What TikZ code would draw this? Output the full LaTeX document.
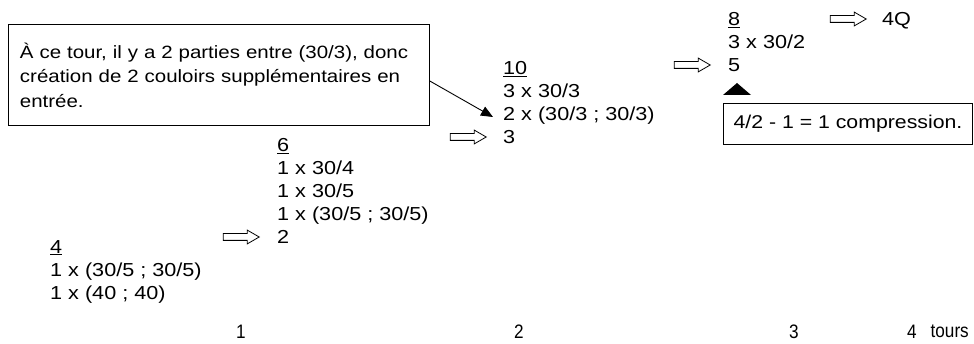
\documentclass[tikz,border=0pt]{standalone}
\usepackage{fontspec}
\setmainfont{Liberation Sans}[FakeStretch=1.15]
\newfontfamily\narrowsans{Liberation Sans}[FakeStretch=0.88]
\usetikzlibrary{shapes.arrows,arrows.meta,calc}
\begin{document}
\begin{tikzpicture}[x=1pt,y=-1pt,
  every node/.style={font=\fontsize{18.8}{23}\selectfont},
  col/.style={anchor=north west,inner sep=0pt,align=left},
  axislabel/.style={anchor=north west,inner sep=0pt,font=\narrowsans\fontsize{19.5}{23}\selectfont},
  hollowarrow/.style={single arrow,draw,line width=0.8pt,minimum height=36pt,inner sep=3pt,
    single arrow head extend=3.5pt,single arrow tip angle=60,anchor=tip},
  notebox/.style={draw,line width=0.9pt,anchor=north west,inner ysep=0pt},
  link/.style={line width=0.9pt,-{Triangle[length=12pt,width=10pt]}}]
\useasboundingbox (0,0) rectangle (974,344);
% note box 1
\node[notebox,minimum width=421pt,minimum height=101pt,text width=398pt,inner xsep=11.5pt,align=left,
  font=\fontsize{17.8}{24.5}\selectfont] (note1) at (8,24)
  {À ce tour, il y a 2 parties entre (30/3), donc\\création de 2 couloirs supplémentaires en\\entrée.};
% columns
\node[col] (c4) at (50,240) {\underline{4}\\1 x (30/5 ; 30/5)\\1 x (40 ; 40)};
\node[col] (c6) at (277,138) {\underline{6}\\1 x 30/4\\1 x 30/5\\1 x (30/5 ; 30/5)\\2};
\node[col] (c10) at (503,61) {\underline{10}\\3 x 30/3\\2 x (30/3 ; 30/3)\\3};
\node[col] (c8) at (728,12) {\underline{8}\\3 x 30/2\\5};
\node[col] (q4) at (882,12) {4Q};
% hollow arrows
\node[hollowarrow] (a1) at (260,237) {};
\node[hollowarrow] (a2) at (487,137) {};
\node[hollowarrow] (a3) at (711,65) {};
\node[hollowarrow] (a4) at (867,19) {};
% link from note 1
\coordinate (t10) at (493,117);
\draw[link] ($(note1.north east)!0.56!(note1.south east)$) -- (t10);
% note box 2
\node[notebox,minimum width=249pt,minimum height=41pt,align=center,font=\fontsize{18.5}{23}\selectfont] (note2) at (723,103) {4/2 - 1 = 1 compression.};
\coordinate (tri) at (737,83);
\fill (tri) -- ($(tri)+(-14,12)$) -- ($(tri)+(14,12)$) -- cycle;
% bottom row
\node[axislabel] (r1) at (236,325) {1};
\node[axislabel] (r2) at (514,325) {2};
\node[axislabel] (r3) at (789,325) {3};
\node[axislabel] (r4) at (907,325) {4};
\node[axislabel,anchor=north east] (rt) at (969,325) {tours};
\end{tikzpicture}
\end{document}
